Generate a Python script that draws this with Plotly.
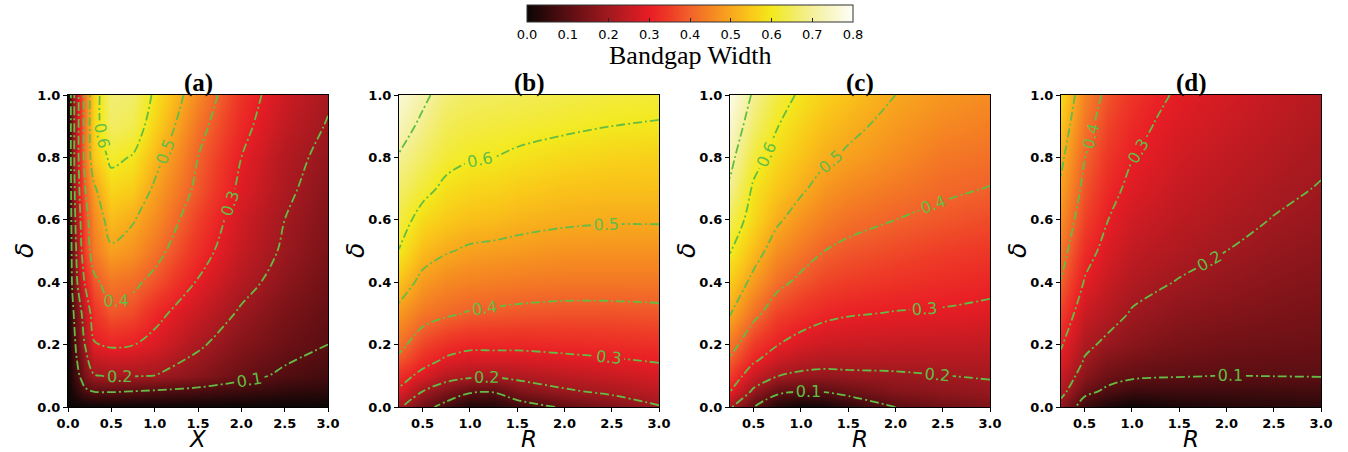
import numpy as np
import plotly.graph_objects as go

W, H = 1348, 452

# ---------------- data ----------------
# Panel (a): X on the horizontal axis, delta on the vertical axis
X_A = [0.0, 0.05, 0.1, 0.15, 0.2, 0.3, 0.5, 0.75, 1.0, 1.5, 2.0, 2.5, 3.0]
D_A = [0.0, 0.05, 0.1, 0.2, 0.3, 0.4, 0.5, 0.6, 0.7, 0.8, 0.9, 1.0]
Z_A = [  # one row per delta value
    [0, 0, 0, 0, 0, 0, 0, 0, 0, 0, 0, 0, 0],
    [0, 0.02, 0.045, 0.065, 0.085, 0.102, 0.105, 0.099, 0.092, 0.078, 0.062, 0.048, 0.04],
    [0, 0.04, 0.08, 0.11, 0.15, 0.195, 0.205, 0.204, 0.199, 0.165, 0.12, 0.088, 0.07],
    [0, 0.06, 0.115, 0.16, 0.205, 0.295, 0.31, 0.302, 0.28, 0.21, 0.16, 0.125, 0.10],
    [0, 0.08, 0.145, 0.19, 0.25, 0.335, 0.385, 0.37, 0.32, 0.255, 0.19, 0.145, 0.115],
    [0, 0.11, 0.19, 0.26, 0.31, 0.385, 0.43, 0.415, 0.38, 0.295, 0.225, 0.17, 0.13],
    [0, 0.12, 0.21, 0.29, 0.36, 0.435, 0.49, 0.47, 0.425, 0.33, 0.25, 0.19, 0.145],
    [0, 0.13, 0.23, 0.31, 0.37, 0.455, 0.53, 0.505, 0.46, 0.355, 0.265, 0.20, 0.155],
    [0, 0.14, 0.25, 0.33, 0.40, 0.49, 0.57, 0.555, 0.49, 0.385, 0.285, 0.215, 0.165],
    [0, 0.15, 0.26, 0.35, 0.43, 0.55, 0.615, 0.595, 0.525, 0.40, 0.30, 0.225, 0.18],
    [0, 0.15, 0.26, 0.35, 0.43, 0.57, 0.655, 0.64, 0.565, 0.425, 0.32, 0.245, 0.195],
    [0, 0.15, 0.26, 0.35, 0.43, 0.565, 0.67, 0.66, 0.59, 0.455, 0.335, 0.26, 0.21],
]

# Panels (b)-(d): R on the horizontal axis, delta on the vertical axis
R_BCD = [0.25, 0.5, 0.75, 1.0, 1.25, 1.5, 2.0, 2.5, 3.0]
D_BCD = [0.0, 0.05, 0.1, 0.15, 0.2, 0.3, 0.4, 0.5, 0.6, 0.7, 0.8, 0.9, 1.0]

Z_B_BY_R = [  # one column (along delta) per R value
    [0.21, 0.29, 0.33, 0.385, 0.42, 0.48, 0.54, 0.598, 0.63, 0.66, 0.695, 0.73, 0.76],
    [0.13, 0.20, 0.28, 0.325, 0.36, 0.43, 0.48, 0.53, 0.575, 0.62, 0.655, 0.685, 0.715],
    [0.07, 0.155, 0.23, 0.29, 0.33, 0.41, 0.455, 0.505, 0.55, 0.585, 0.62, 0.645, 0.67],
    [0.02, 0.11, 0.215, 0.275, 0.315, 0.395, 0.445, 0.49, 0.535, 0.57, 0.605, 0.63, 0.655],
    [0.03, 0.105, 0.21, 0.275, 0.315, 0.39, 0.44, 0.485, 0.53, 0.565, 0.60, 0.625, 0.65],
    [0.06, 0.15, 0.22, 0.275, 0.315, 0.385, 0.435, 0.48, 0.52, 0.555, 0.59, 0.62, 0.645],
    [0.11, 0.19, 0.24, 0.285, 0.32, 0.38, 0.43, 0.47, 0.51, 0.54, 0.575, 0.61, 0.635],
    [0.15, 0.215, 0.255, 0.295, 0.325, 0.38, 0.43, 0.47, 0.505, 0.535, 0.565, 0.60, 0.625],
    [0.195, 0.24, 0.275, 0.305, 0.33, 0.385, 0.43, 0.47, 0.505, 0.535, 0.56, 0.595, 0.62],
]
Z_C_BY_R = [
    [0.21, 0.302, 0.35, 0.392, 0.43, 0.505, 0.555, 0.604, 0.645, 0.69, 0.72, 0.75, 0.78],
    [0.10, 0.185, 0.255, 0.31, 0.345, 0.42, 0.48, 0.53, 0.57, 0.59, 0.625, 0.66, 0.69],
    [0.03, 0.118, 0.202, 0.26, 0.302, 0.36, 0.418, 0.465, 0.51, 0.545, 0.575, 0.602, 0.63],
    [0.0, 0.102, 0.185, 0.235, 0.275, 0.335, 0.385, 0.43, 0.47, 0.51, 0.54, 0.565, 0.59],
    [0.01, 0.105, 0.18, 0.225, 0.26, 0.315, 0.36, 0.40, 0.44, 0.475, 0.51, 0.535, 0.56],
    [0.04, 0.125, 0.185, 0.225, 0.255, 0.305, 0.35, 0.385, 0.42, 0.455, 0.49, 0.515, 0.54],
    [0.10, 0.16, 0.19, 0.225, 0.25, 0.297, 0.335, 0.368, 0.40, 0.43, 0.46, 0.48, 0.50],
    [0.13, 0.175, 0.199, 0.225, 0.248, 0.294, 0.325, 0.353, 0.385, 0.41, 0.43, 0.455, 0.475],
    [0.15, 0.185, 0.205, 0.225, 0.245, 0.287, 0.315, 0.343, 0.37, 0.398, 0.42, 0.44, 0.46],
]
Z_D_BY_R = [
    [0.17, 0.225, 0.255, 0.285, 0.307, 0.355, 0.397, 0.43, 0.46, 0.49, 0.515, 0.545, 0.575],
    [0.06, 0.12, 0.165, 0.195, 0.215, 0.255, 0.295, 0.325, 0.355, 0.38, 0.402, 0.425, 0.448],
    [0.02, 0.085, 0.125, 0.155, 0.185, 0.225, 0.253, 0.278, 0.30, 0.32, 0.34, 0.36, 0.38],
    [0.0, 0.065, 0.11, 0.14, 0.165, 0.195, 0.222, 0.245, 0.265, 0.285, 0.302, 0.32, 0.338],
    [0.01, 0.063, 0.105, 0.13, 0.152, 0.183, 0.208, 0.23, 0.25, 0.268, 0.285, 0.297, 0.312],
    [0.02, 0.065, 0.103, 0.125, 0.142, 0.17, 0.197, 0.218, 0.236, 0.252, 0.266, 0.28, 0.292],
    [0.03, 0.066, 0.099, 0.118, 0.132, 0.158, 0.18, 0.20, 0.217, 0.232, 0.245, 0.258, 0.27],
    [0.035, 0.068, 0.101, 0.115, 0.127, 0.148, 0.166, 0.183, 0.198, 0.212, 0.225, 0.237, 0.248],
    [0.04, 0.072, 0.102, 0.113, 0.123, 0.14, 0.156, 0.171, 0.185, 0.197, 0.208, 0.218, 0.228],
]

PANEL_TITLES = ["(a)", "(b)", "(c)", "(d)"]
X_LABELS = ["X", "R", "R", "R"]
Y_LABEL = "δ"
CBAR_TITLE = "Bandgap Width"
CBAR_TICKS = [0.0, 0.1, 0.2, 0.3, 0.4, 0.5, 0.6, 0.7, 0.8]
Y_TICKS = [0.0, 0.2, 0.4, 0.6, 0.8, 1.0]
X_TICKS_A = [0.0, 0.5, 1.0, 1.5, 2.0, 2.5, 3.0]
X_TICKS_R = [0.5, 1.0, 1.5, 2.0, 2.5, 3.0]
LEVELS = dict(start=0.1, end=0.7, size=0.1)

# ---------------- styling ----------------
GREEN = "#63bd45"
ZMAX = 0.8
stops = [
    (0.00, "#0b0505"), (0.10, "#5a0e12"), (0.20, "#a1191f"), (0.30, "#e81d25"),
    (0.35, "#ee3b27"), (0.40, "#f1622a"), (0.45, "#f58522"), (0.50, "#f8a71d"),
    (0.55, "#f9c919"), (0.60, "#f3e91d"), (0.65, "#f2ec5c"), (0.70, "#f4f09a"),
    (0.80, "#fefefa"),
]
COLORSCALE = [[v / ZMAX, c] for v, c in stops]

panel_left = [68, 399, 730, 1061]
panel_w = 260
top_px, bot_px = 95, 407

panels = [
    (X_A, D_A, np.array(Z_A), [0, 3], X_TICKS_A),
    (R_BCD, D_BCD, np.array(Z_B_BY_R).T, [0.25, 3], X_TICKS_R),
    (R_BCD, D_BCD, np.array(Z_C_BY_R).T, [0.25, 3], X_TICKS_R),
    (R_BCD, D_BCD, np.array(Z_D_BY_R).T, [0.25, 3], X_TICKS_R),
]

fig = go.Figure()
layout = dict(
    width=W, height=H, margin=dict(l=0, r=0, t=0, b=0, autoexpand=False),
    paper_bgcolor="white", plot_bgcolor="white", showlegend=False,
)
annotations = []
tickfont = dict(family="DejaVu Sans", size=13, color="black", weight="bold")

for i, (xs, ys, z, xr, xt) in enumerate(panels):
    n = "" if i == 0 else str(i + 1)
    xa, ya = "x" + n, "y" + n
    show = i == 0
    fig.add_trace(go.Heatmap(
        x=xs, y=ys, z=z, xaxis=xa, yaxis=ya, zmin=0, zmax=ZMAX,
        colorscale=COLORSCALE, zsmooth="best", hoverinfo="skip",
        showscale=show,
        colorbar=dict(
            orientation="h", x=690 / W, xanchor="center", y=1 - 5 / H, yanchor="top",
            len=326, lenmode="pixels", thickness=17, thicknessmode="pixels",
            outlinewidth=1, outlinecolor="#333", xpad=0, ypad=0,
            tickvals=CBAR_TICKS, ticktext=[f"{v:.1f}" for v in CBAR_TICKS],
            ticks="inside", ticklen=4, tickcolor="#222",
            tickfont=dict(family="DejaVu Sans", size=13, color="black"),
        ),
    ))
    fig.add_trace(go.Contour(
        x=xs, y=ys, z=z, xaxis=xa, yaxis=ya, autocontour=False,
        contours=dict(coloring="none", showlabels=True, labelformat=".1f",
                      labelfont=dict(family="DejaVu Sans", size=16, color=GREEN), **LEVELS),
        line=dict(color=GREEN, width=1.8, dash="9px,3px,2px,3px"),
        showscale=False, hoverinfo="skip",
    ))
    x0 = panel_left[i] / W
    x1 = (panel_left[i] + panel_w) / W
    common = dict(showline=True, mirror=True, linecolor="black", linewidth=1,
                  ticks="outside", ticklen=4, tickwidth=1, tickcolor="black",
                  tickfont=tickfont, showgrid=False, zeroline=False, fixedrange=True)
    layout["xaxis" + n] = dict(domain=[x0, x1], range=xr, anchor=ya,
                               tickvals=xt, ticktext=[f"{v:.1f}" for v in xt], **common)
    layout["yaxis" + n] = dict(domain=[1 - bot_px / H, 1 - top_px / H], range=[0, 1], anchor=xa,
                               tickvals=Y_TICKS, ticktext=[f"{v:.1f}" for v in Y_TICKS], **common)
    cx = (x0 + x1) / 2
    annotations.append(dict(text=f"<b>{PANEL_TITLES[i]}</b>", x=cx, y=1 - 83 / H, xref="paper", yref="paper",
                            showarrow=False, xanchor="center", yanchor="middle",
                            font=dict(family="Liberation Serif", size=25, color="black")))
    annotations.append(dict(text=X_LABELS[i], x=cx, y=1 - 439 / H, xref="paper", yref="paper",
                            showarrow=False, xanchor="center", yanchor="middle",
                            font=dict(family="DejaVu Sans", size=23, color="black", style="italic")))
    annotations.append(dict(text=Y_LABEL, x=(panel_left[i] - 44) / W, y=1 - 251 / H, xref="paper", yref="paper",
                            showarrow=False, xanchor="center", yanchor="middle", textangle=-90,
                            font=dict(family="DejaVu Sans", size=25, color="black", style="italic")))

annotations.append(dict(text=CBAR_TITLE, x=690 / W, y=1 - 55 / H, xref="paper", yref="paper",
                        showarrow=False, xanchor="center", yanchor="middle",
                        font=dict(family="Liberation Serif", size=26, color="black")))
layout["annotations"] = annotations
fig.update_layout(**layout)
fig.write_html("out.html")
